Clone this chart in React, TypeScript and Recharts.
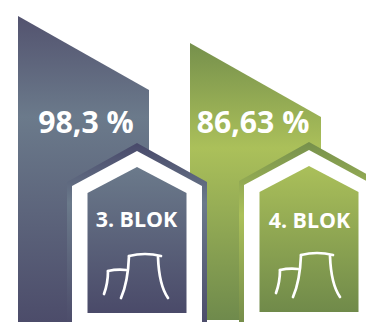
import { BarChart, Bar, XAxis, YAxis, LabelList } from "recharts";

// Hodnoty bloků
const blocks = ["3. BLOK", "4. BLOK"];
const availability = [98.3, 86.63];
const valueLabels = ["98,3 %", "86,63 %"];
const axisFloor = -33.9;
const axisCeil = 105.2;

const rows = blocks.map((name, i) => ({
  name,
  span: [axisFloor, availability[i]],
  label: valueLabels[i],
}));

const tones = ["slate", "olive"];
const roofApex = [143, 142];

const ramp = (id: string, y1: number, y2: number, stops: [number, string][]) => (
  <linearGradient id={id} gradientUnits="userSpaceOnUse" x1="0" x2="0" y1={y1} y2={y2}>
    {stops.map(([o, c]) => (
      <stop key={o} offset={o} stopColor={c} />
    ))}
  </linearGradient>
);

// Sloupec se zkoseným vrškem
const SlantedBar = (props: any) => {
  const { x, y, width, height, index } = props;
  const drop = width * 0.565;
  const d = `M${x},${y} L${x + width},${y + drop} V${y + height - index * 2} H${x} Z`;
  return <path d={d} fill={`url(#${tones[index]}Body)`} />;
};

const house = (cx: number, apex: number, halfW: number, eave: number, bottom: number) =>
  `M${cx},${apex} L${cx + halfW},${eave} V${bottom} H${cx - halfW} V${eave} Z`;

// Domeček s rámem, popiskem a chladicími věžemi
const BlockHouse = (props: any) => {
  const { x, index } = props;
  const tone = tones[index];
  const cx = x + 119;
  const top = roofApex[index];
  return (
    <g>
      <path d={house(cx, top, 70, top + 39, 330)} fill={`url(#${tone}Frame)`} />
      <path d={house(cx, top + 8, 65, top + 43, 330)} fill="#fff" />
      <path d={house(cx, top + 24, 49.5, top + 50, top + 170)} fill={`url(#${tone}Inner)`} />
      <g
        transform={`translate(${cx} ${top + 24})`}
        fill="none"
        stroke="#fff"
        strokeWidth={2.7}
        strokeLinecap="round"
      >
        <path d="M-8,89 Q-9,115 -16,131" />
        <path d="M-8,89 Q8,85 24,89" />
        <path d="M21,90 Q22,118 31,131" />
        <path d="M-29,104 Q-20,102 -11,103" />
        <path d="M-29,104 Q-29,116 -33,127" />
      </g>
    </g>
  );
};

const ValueLabel = (props: any) => {
  const { index, value } = props;
  const centers = [86, 253];
  return (
    <text
      x={centers[index]}
      y={133}
      textAnchor="middle"
      fill="#fff"
      fontSize={30.2}
      fontWeight={700}
      fontFamily="'Open Sans', sans-serif"
    >
      {value}
    </text>
  );
};

const NameLabel = (props: any) => {
  const { index, x, value } = props;
  return (
    <text
      x={x + 118.5 + index}
      y={227 + index}
      textAnchor="middle"
      fill="#fff"
      fontSize={21.4}
      fontWeight={700}
      fontFamily="'Open Sans', sans-serif"
    >
      {value}
    </text>
  );
};

export default function App() {
  return (
    <div style={{ position: "absolute", left: 0, top: 0, width: 366, height: 325, overflow: "hidden" }}>
      <BarChart
        width={366}
        height={325}
        data={rows}
        margin={{ top: 0, right: 25, bottom: 3, left: -3 }}
        barSize={131}
        barGap={-131}
        barCategoryGap={0}
      >
        <defs>
          {ramp("slateBody", 16, 322, [[0, "#53536f"], [0.33, "#6b7a8b"], [1, "#4c4c6a"]])}
          {ramp("slateFrame", 143, 325, [[0, "#48496a"], [0.33, "#6b7a8b"], [1, "#4c4c6a"]])}
          {ramp("slateInner", 167, 313, [[0, "#6b7a8b"], [1, "#4a4a69"]])}
          {ramp("oliveBody", 43, 320, [[0, "#76904c"], [0.38, "#abc05a"], [1, "#6f8a4c"]])}
          {ramp("oliveFrame", 142, 325, [[0, "#76904c"], [0.4, "#abc05a"], [1, "#748c4a"]])}
          {ramp("oliveInner", 165, 312, [[0, "#abc05a"], [1, "#708a4a"]])}
        </defs>
        <XAxis dataKey="name" hide />
        <YAxis hide domain={[axisFloor, axisCeil]} allowDataOverflow />
        <Bar dataKey="span" shape={<SlantedBar />} isAnimationActive={false}>
          <LabelList dataKey="label" content={<ValueLabel />} />
        </Bar>
        <Bar dataKey="span" shape={<BlockHouse />} isAnimationActive={false}>
          <LabelList dataKey="name" content={<NameLabel />} />
        </Bar>
      </BarChart>
    </div>
  );
}
